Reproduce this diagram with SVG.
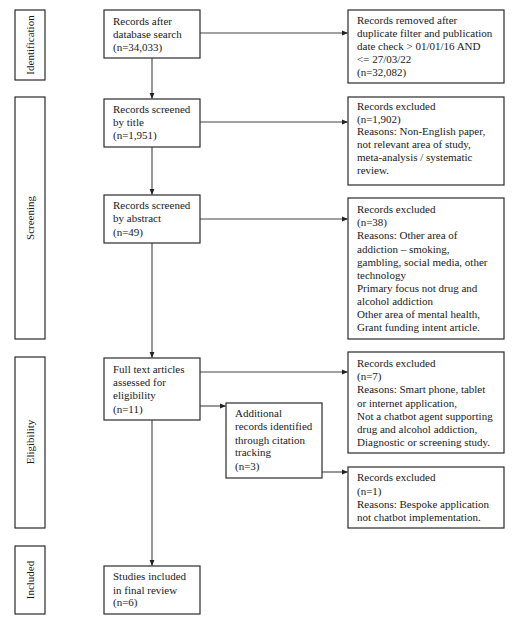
<svg xmlns="http://www.w3.org/2000/svg" width="520" height="625" viewBox="0 0 520 625">
<defs>
<style>
.box{fill:#fff;stroke:#2a2a2a;stroke-width:1.2}
.t{font-family:"Liberation Serif","Times New Roman",serif;font-size:11px;fill:#1a1a1a}
.c{stroke:#444;stroke-width:1.1;fill:none;marker-end:url(#ah)}
</style>
<marker id="ah" markerWidth="6" markerHeight="6" refX="5.5" refY="3" orient="auto" markerUnits="userSpaceOnUse">
<path d="M0,0.6 L6,3 L0,5.4 z" fill="#222"/>
</marker>
</defs>
<rect width="520" height="625" fill="#fff"/>

<g id="phase-identification">
<rect class="box" x="15" y="10" width="30" height="70"/>
<text class="t" text-anchor="middle" transform="translate(33.5,45) rotate(-90)">Identification</text>
</g>
<g id="phase-screening">
<rect class="box" x="15" y="97" width="30" height="242"/>
<text class="t" text-anchor="middle" transform="translate(33.5,218) rotate(-90)">Screening</text>
</g>
<g id="phase-eligibility">
<rect class="box" x="15" y="357" width="30" height="171"/>
<text class="t" text-anchor="middle" transform="translate(33.5,442) rotate(-90)">Eligibility</text>
</g>
<g id="phase-included">
<rect class="box" x="15" y="546" width="30" height="68"/>
<text class="t" text-anchor="middle" transform="translate(33.5,580) rotate(-90)">Included</text>
</g>

<g id="connectors">
<line class="c" x1="152" y1="58" x2="152" y2="98.5"/>
<line class="c" x1="152" y1="147" x2="152" y2="194.5"/>
<line class="c" x1="152" y1="243" x2="152" y2="357.5"/>
<line class="c" x1="152" y1="420" x2="152" y2="565.5"/>
<line class="c" x1="200" y1="33" x2="347.5" y2="33"/>
<line class="c" x1="200" y1="122" x2="347.5" y2="122"/>
<line class="c" x1="200" y1="219" x2="347.5" y2="219"/>
<line class="c" x1="200" y1="372" x2="347.5" y2="372"/>
<line class="c" x1="200" y1="406" x2="225.5" y2="406"/>
<line class="c" x1="322" y1="472" x2="347.5" y2="472"/>
</g>

<g id="records-after-search">
<rect class="box" x="104" y="10" width="96" height="48"/>
<text class="t" x="113" y="24.5">Records after</text>
<text class="t" x="113" y="37.5">database search</text>
<text class="t" x="113" y="50.5">(n=34,033)</text>
</g>
<g id="screened-title">
<rect class="box" x="104" y="99" width="96" height="48"/>
<text class="t" x="113" y="113">Records screened</text>
<text class="t" x="113" y="126">by title</text>
<text class="t" x="113" y="139">(n=1,951)</text>
</g>
<g id="screened-abstract">
<rect class="box" x="104" y="195" width="96" height="48"/>
<text class="t" x="113" y="209">Records screened</text>
<text class="t" x="113" y="222">by abstract</text>
<text class="t" x="113" y="235.5">(n=49)</text>
</g>
<g id="full-text">
<rect class="box" x="104" y="358" width="96" height="62"/>
<text class="t" x="113" y="372.5">Full text articles</text>
<text class="t" x="113" y="386">assessed for</text>
<text class="t" x="113" y="399">eligibility</text>
<text class="t" x="113" y="412.5">(n=11)</text>
</g>
<g id="studies-included">
<rect class="box" x="104" y="566" width="96" height="48"/>
<text class="t" x="113" y="580">Studies included</text>
<text class="t" x="113" y="593.5">in final review</text>
<text class="t" x="113" y="606">(n=6)</text>
</g>
<g id="additional-records">
<rect class="box" x="226" y="403" width="96" height="75"/>
<text class="t" x="235" y="417">Additional</text>
<text class="t" x="235" y="430">records identified</text>
<text class="t" x="235" y="443.5">through citation</text>
<text class="t" x="235" y="456">tracking</text>
<text class="t" x="235" y="469.5">(n=3)</text>
</g>

<g id="records-removed">
<rect class="box" x="348" y="10" width="156" height="73"/>
<text class="t" x="357" y="24">Records removed after</text>
<text class="t" x="357" y="37">duplicate filter and publication</text>
<text class="t" x="357" y="50">date check &gt; 01/01/16 AND</text>
<text class="t" x="357" y="63">&lt;= 27/03/22</text>
<text class="t" x="357" y="75.5">(n=32,082)</text>
</g>
<g id="excluded-title">
<rect class="box" x="348" y="97" width="156" height="88"/>
<text class="t" x="357" y="110">Records excluded</text>
<text class="t" x="357" y="122.5">(n=1,902)</text>
<text class="t" x="357" y="135">Reasons: Non-English paper,</text>
<text class="t" x="357" y="147.5">not relevant area of study,</text>
<text class="t" x="357" y="161">meta-analysis / systematic</text>
<text class="t" x="357" y="173.5">review.</text>
</g>
<g id="excluded-abstract">
<rect class="box" x="348" y="198" width="156" height="141"/>
<text class="t" x="357" y="213">Records excluded</text>
<text class="t" x="357" y="226">(n=38)</text>
<text class="t" x="357" y="239">Reasons: Other area of</text>
<text class="t" x="357" y="252.5">addiction – smoking,</text>
<text class="t" x="357" y="265.5">gambling, social media, other</text>
<text class="t" x="357" y="279">technology</text>
<text class="t" x="357" y="292">Primary focus not drug and</text>
<text class="t" x="357" y="305">alcohol addiction</text>
<text class="t" x="357" y="317.5">Other area of mental health,</text>
<text class="t" x="357" y="330.5">Grant funding intent article.</text>
</g>
<g id="excluded-fulltext">
<rect class="box" x="348" y="352" width="156" height="101"/>
<text class="t" x="357" y="367">Records excluded</text>
<text class="t" x="357" y="380">(n=7)</text>
<text class="t" x="357" y="393">Reasons: Smart phone, tablet</text>
<text class="t" x="357" y="406.5">or internet application,</text>
<text class="t" x="357" y="419.5">Not a chatbot agent supporting</text>
<text class="t" x="357" y="432.5">drug and alcohol addiction,</text>
<text class="t" x="357" y="445.5">Diagnostic or screening study.</text>
</g>
<g id="excluded-additional">
<rect class="box" x="348" y="467" width="156" height="61"/>
<text class="t" x="357" y="481">Records excluded</text>
<text class="t" x="357" y="494.5">(n=1)</text>
<text class="t" x="357" y="507.5">Reasons: Bespoke application</text>
<text class="t" x="357" y="520.5">not chatbot implementation.</text>
</g>
</svg>
